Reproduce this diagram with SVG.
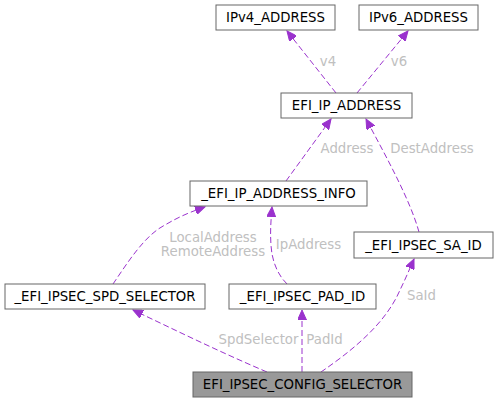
<svg xmlns="http://www.w3.org/2000/svg" width="499" height="403" viewBox="0 0 499 403">
<style>
.node rect{fill:#ffffff;stroke:#666666;stroke-width:1}
.node.main rect{fill:#999999}
.node text{font-family:"DejaVu Sans",sans-serif;font-size:13.3px;fill:#000000;text-anchor:middle}
.edge path{fill:none;stroke:#9a32cd;stroke-width:1;stroke-dasharray:6,3;marker-end:url(#arr)}
.lbl{font-family:"DejaVu Sans",sans-serif;font-size:13.3px;fill:#c0c0c0;text-anchor:middle}
</style>
<defs>
<marker id="arr" markerUnits="userSpaceOnUse" markerWidth="11" markerHeight="9" refX="10" refY="4.5" orient="auto">
<path d="M0,0 L10,4.5 L0,9 z" fill="#9a32cd" stroke="#9a32cd" stroke-width="1"/>
</marker>
</defs>
<rect width="499" height="403" fill="#ffffff"/>
<g id="connectors">
<g class="edge"><path d="M336,93 L287,31"/><text class="lbl" x="328" y="66">v4</text></g>
<g class="edge"><path d="M357,93 L408,31"/><text class="lbl" x="399" y="66">v6</text></g>
<g class="edge"><path d="M286,181 L331,119"/><text class="lbl" x="347" y="153">Address</text></g>
<g class="edge"><path d="M419,232 C410,200 388,160 366,119"/><text class="lbl" x="432" y="153">DestAddress</text></g>
<g class="edge"><path d="M113,284 C128,262 145,235 165,225 C180,216 193,211 205,207"/><text class="lbl" x="213" y="242">LocalAddress</text><text class="lbl" x="213" y="256">RemoteAddress</text></g>
<g class="edge"><path d="M287,284 C278,275 272,262 271,245 C270,232 271,220 272,207"/><text class="lbl" x="308.5" y="249">IpAddress</text></g>
<g class="edge"><path d="M267,372 C220,352 175,330 133,310"/><text class="lbl" x="258.5" y="344">SpdSelector</text></g>
<g class="edge"><path d="M302,372 L302,310"/><text class="lbl" x="324.5" y="344">PadId</text></g>
<g class="edge"><path d="M321,372 C350,352 385,325 400,290 C405,280 410,268 414,259"/><text class="lbl" x="421.5" y="300">SaId</text></g>
</g>
<g id="IPv4_ADDRESS" class="node"><rect x="216" y="5" width="119" height="25"/><text x="275.5" y="22">IPv4_ADDRESS</text></g>
<g id="IPv6_ADDRESS" class="node"><rect x="359" y="5" width="119" height="25"/><text x="418.5" y="22">IPv6_ADDRESS</text></g>
<g id="EFI_IP_ADDRESS" class="node"><rect x="281" y="93" width="131" height="25"/><text x="346.5" y="110">EFI_IP_ADDRESS</text></g>
<g id="_EFI_IP_ADDRESS_INFO" class="node"><rect x="190" y="181" width="177" height="25"/><text x="278.5" y="198">_EFI_IP_ADDRESS_INFO</text></g>
<g id="_EFI_IPSEC_SA_ID" class="node"><rect x="354" y="232" width="139" height="26"/><text x="423.5" y="250">_EFI_IPSEC_SA_ID</text></g>
<g id="_EFI_IPSEC_SPD_SELECTOR" class="node"><rect x="5" y="284" width="200" height="25"/><text x="105" y="301">_EFI_IPSEC_SPD_SELECTOR</text></g>
<g id="_EFI_IPSEC_PAD_ID" class="node"><rect x="229" y="284" width="147" height="25"/><text x="302.5" y="301">_EFI_IPSEC_PAD_ID</text></g>
<g id="EFI_IPSEC_CONFIG_SELECTOR" class="node main"><rect x="193" y="372" width="219" height="25"/><text x="302.5" y="389">EFI_IPSEC_CONFIG_SELECTOR</text></g>
</svg>
